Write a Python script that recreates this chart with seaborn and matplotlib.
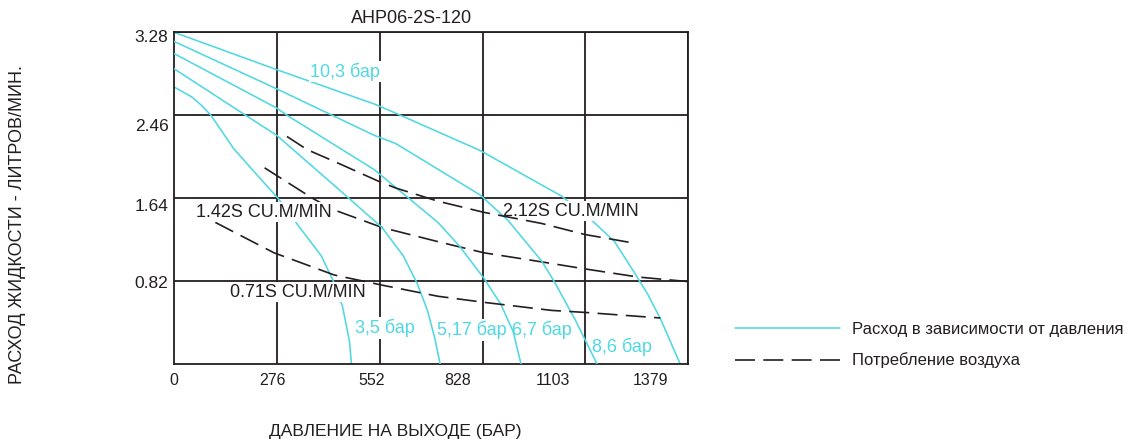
import numpy as np
import pandas as pd
import matplotlib
matplotlib.use("Agg")
import matplotlib.pyplot as plt
import seaborn as sns

# ---- data: fluid flow (l/min) vs outlet pressure, per inlet air pressure ----
p103_x = [0, 276, 538, 595, 822, 1040, 1127, 1182, 1234, 1271, 1306, 1358]
p103_y = [3.28, 2.91, 2.57, 2.48, 2.11, 1.66, 1.40, 1.21, 0.91, 0.69, 0.44, 0.0]
p86_x = [0, 276, 538, 595, 822, 896, 986, 1021, 1076, 1135]
p86_y = [3.19, 2.72, 2.26, 2.18, 1.67, 1.42, 1.02, 0.81, 0.44, 0.0]
p67_x = [0, 276, 303, 538, 708, 765, 831, 877, 910, 931]
p67_y = [3.07, 2.53, 2.46, 1.92, 1.40, 1.17, 0.85, 0.59, 0.32, 0.0]
p517_x = [0, 192, 276, 438, 558, 615, 652, 680, 700, 714]
p517_y = [2.92, 2.46, 2.26, 1.74, 1.35, 1.07, 0.80, 0.53, 0.25, 0.0]
p35_x = [0, 48, 73, 99, 160, 225, 281, 327, 395, 430, 452, 471, 476]
p35_y = [2.74, 2.64, 2.56, 2.46, 2.13, 1.86, 1.63, 1.40, 1.07, 0.80, 0.57, 0.22, 0.0]

# ---- air consumption curves ----
air212_x = [303, 357, 438, 547, 595, 708, 831, 986, 1103, 1227]
air212_y = [2.25, 2.12, 1.99, 1.81, 1.74, 1.61, 1.50, 1.39, 1.28, 1.20]
air142_x = [243, 371, 425, 558, 708, 831, 986, 1103, 1245, 1379]
air142_y = [1.94, 1.64, 1.53, 1.35, 1.21, 1.10, 1.01, 0.94, 0.86, 0.815]
air071_x = [111, 268, 430, 558, 708, 831, 1013, 1103, 1305]
air071_y = [1.40, 1.10, 0.88, 0.78, 0.67, 0.61, 0.53, 0.51, 0.455]

# ---- ticks / labels ----
x_grid = [0, 276, 552, 828, 1103, 1379]
x_tick_labels = ["0", "276", "552", "828", "1103", "1379"]
y_grid = [0.82, 1.64, 2.46, 3.28]
y_tick_labels = ["0.82", "1.64", "2.46", "3.28"]

title = "AHP06-2S-120"
x_label = "ДАВЛЕНИЕ НА ВЫХОДЕ (БАР)"
y_label = "РАСХОД ЖИДКОСТИ - ЛИТРОВ/МИН."
legend_labels = ["Расход в зависимости от давления", "Потребление воздуха"]

# layout (where the printed tick labels sit in the original drawing)
x_label_pos = [0, 264, 529, 762, 1016, 1279]
y_label_pos = [0.813, 1.571, 2.362, 3.241]

CYAN = "#50d8e2"
INK = "#231f20"

sns.set_theme(style="white")
plt.rcParams["font.family"] = ["Liberation Sans", "DejaVu Sans"]

fig = plt.figure(figsize=(11.36, 4.41), dpi=100)
ax = fig.add_axes([174 / 1136, 77 / 441, 514 / 1136, 331.7 / 441])

# flow curves: (x, y, zorder) -- some pass under the text labels
flow = [(p103_x, p103_y, 2), (p86_x, p86_y, 5), (p67_x, p67_y, 5),
        (p517_x, p517_y, 5), (p35_x, p35_y, 2)]
for xs, ys, z in flow:
    sns.lineplot(x=xs, y=ys, ax=ax, sort=False, estimator=None,
                 color=CYAN, lw=1.15, zorder=z, legend=False)
flow_handle = ax.lines[0]

air = [(air212_x, air212_y, 5), (air142_x, air142_y, 2), (air071_x, air071_y, 5)]
n0 = len(ax.lines)
for xs, ys, z in air:
    sns.lineplot(x=xs, y=ys, ax=ax, sort=False, estimator=None,
                 color=INK, lw=1.2, zorder=z, legend=False)
for ln in ax.lines[n0:]:
    ln.set_linestyle((0, (12, 5)))
air_handle = ax.lines[n0]

ax.set_xlim(0, 1379)
ax.set_ylim(0, 3.28)

# grid on minor ticks at the real values; labels where printed
ax.set_xticks(x_grid, minor=True)
ax.set_yticks(y_grid, minor=True)
ax.grid(True, which="minor", color=INK, lw=1.3, zorder=1)
ax.grid(False, which="major")
ax.set_xticks(x_label_pos)
ax.set_xticklabels(x_tick_labels)
ax.set_yticks(y_label_pos)
ax.set_yticklabels(y_tick_labels)
ax.tick_params(which="both", length=0)
ax.tick_params(axis="x", labelsize=11.5, pad=6.5, colors=INK)
ax.tick_params(axis="y", labelsize=12.5, pad=4, colors=INK)
for sp in ax.spines.values():
    sp.set_visible(True)
    sp.set_color(INK)
    sp.set_linewidth(1.3)

ax.text(0.463, 1.042, title, transform=ax.transAxes, ha="center", va="center",
        fontsize=13, color=INK)
ax.set_xlabel(x_label, fontsize=12.5, color=INK)
ax.xaxis.set_label_coords(0.431, -0.205)
ax.xaxis.label.set_va("center")
ax.set_ylabel(y_label, fontsize=13, color=INK)
ax.yaxis.set_label_coords(-0.304, 0.419)
ax.yaxis.label.set_va("center")

box = dict(facecolor="white", edgecolor="none", pad=1.0)
ann = [
    ("10,3 бар", 365, 2.89, CYAN),
    ("2.12S CU.M/MIN", 883, 1.512, INK),
    ("1.42S CU.M/MIN", 59, 1.502, INK),
    ("0.71S CU.M/MIN", 150, 0.711, INK),
    ("3,5 бар", 486, 0.356, CYAN),
    ("5,17 бар", 706, 0.336, CYAN),
    ("6,7 бар", 907, 0.336, CYAN),
    ("8,6 бар", 1122, 0.168, CYAN),
]
for s, x, y, c in ann:
    ax.text(x, y, s, ha="left", va="center", fontsize=13, color=c,
            bbox=box, zorder=3)

leg = ax.legend([flow_handle, air_handle], legend_labels,
                loc="center left", bbox_to_anchor=(735 / 1136, 1 - 345 / 441),
                bbox_transform=fig.transFigure, frameon=False, fontsize=12,
                handlelength=6.3, handletextpad=0.72, labelspacing=0.95,
                borderpad=0, borderaxespad=0)
for t in leg.get_texts():
    t.set_color(INK)

fig.savefig("out.png", dpi=100)
